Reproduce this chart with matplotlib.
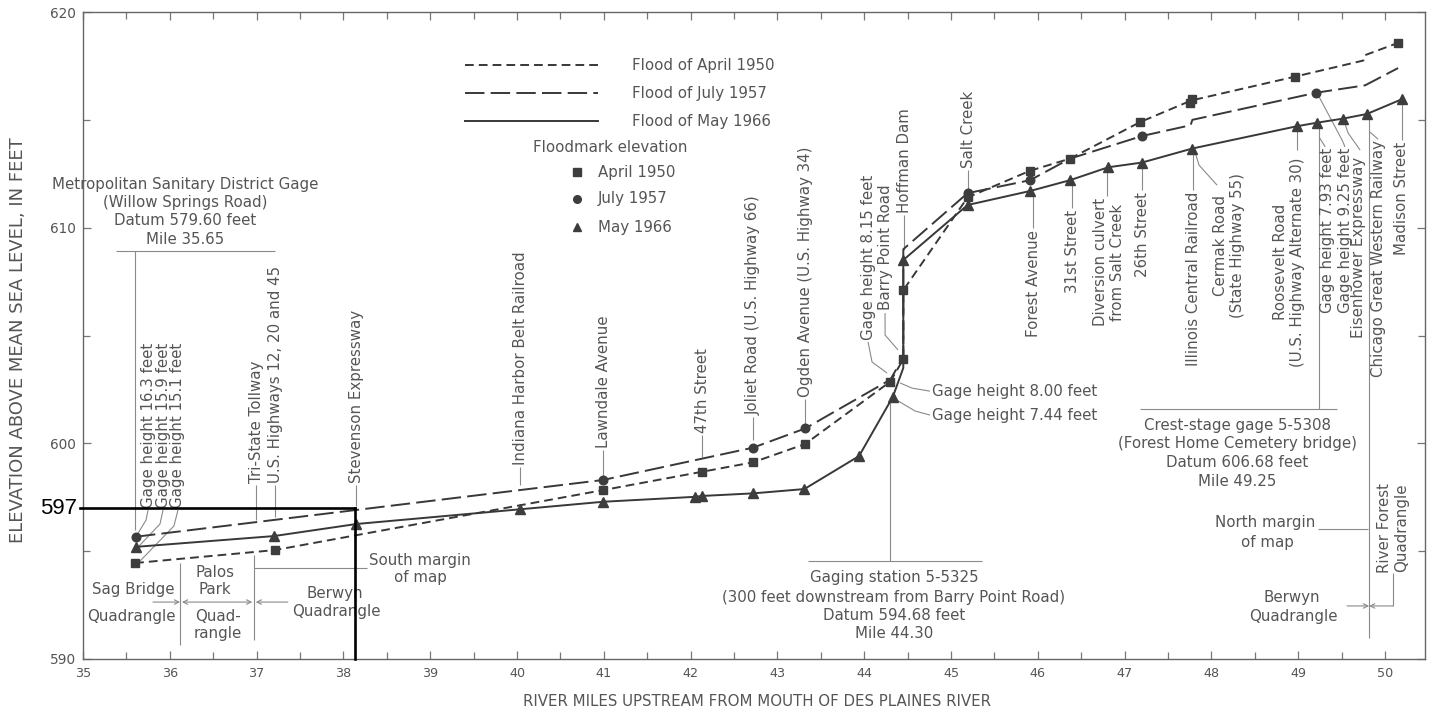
import matplotlib
matplotlib.use("Agg")
import matplotlib.pyplot as plt
from matplotlib.ticker import MultipleLocator

# ---------------------------------------------------------------
# Flood profiles along the Des Plaines River (river mile, feet)
# ---------------------------------------------------------------
profile_miles_1950 = [35.60, 37.21, 40.99, 42.13, 42.72, 43.32, 44.30, 44.45, 44.45,
                      45.19, 45.91, 46.37, 47.18, 47.77, 48.96, 49.75, 49.77, 50.15]
profile_elev_1950 = [594.45, 595.05, 597.83, 598.68, 599.12, 599.97, 602.86, 603.90, 607.10,
                     611.40, 612.64, 613.20, 614.90, 615.90, 617.00, 617.75, 618.00, 618.57]

profile_miles_1957 = [35.61, 40.99, 42.72, 43.32, 44.30, 44.45, 44.45, 45.19, 45.91,
                      46.37, 47.20, 47.76, 47.78, 49.21, 49.77, 50.15]
profile_elev_1957 = [595.67, 598.30, 599.80, 600.69, 602.95, 604.00, 609.00, 611.60, 612.20,
                     613.20, 614.25, 614.75, 615.00, 616.26, 616.60, 617.40]

profile_miles_1966 = [35.61, 37.20, 38.15, 40.03, 40.99, 42.05, 42.13, 42.72, 43.31, 43.94,
                      44.33, 44.45, 44.45, 45.19, 45.91, 46.37, 46.81, 47.20, 47.78, 48.98,
                      49.22, 49.52, 49.79, 50.19]
profile_elev_1966 = [595.20, 595.70, 596.26, 596.94, 597.29, 597.52, 597.56, 597.68, 597.88, 599.41,
                     602.16, 603.50, 608.50, 611.05, 611.70, 612.20, 612.80, 613.02, 613.67, 614.70,
                     614.87, 615.06, 615.27, 615.95]

# Floodmark elevations
marks_miles_1950 = [35.60, 37.21, 40.99, 42.13, 42.72, 43.32, 44.30, 44.45, 44.45, 45.19,
                    45.91, 46.37, 47.18, 47.75, 47.78, 48.96, 50.15]
marks_elev_1950 = [594.45, 595.05, 597.83, 598.68, 599.12, 599.97, 602.86, 603.90, 607.10, 611.40,
                   612.64, 613.20, 614.90, 615.76, 615.96, 617.00, 618.57]

marks_miles_1957 = [35.61, 40.99, 42.72, 43.32, 45.19, 45.91, 47.20, 49.21]
marks_elev_1957 = [595.67, 598.30, 599.80, 600.69, 611.60, 612.20, 614.25, 616.26]

marks_miles_1966 = [35.61, 37.20, 38.15, 40.03, 40.99, 42.05, 42.13, 42.72, 43.31, 43.94,
                    44.33, 44.45, 45.19, 45.91, 46.37, 46.81, 47.20, 47.78, 48.98, 49.22,
                    49.52, 49.79, 50.19]
marks_elev_1966 = [595.20, 595.70, 596.26, 596.94, 597.29, 597.52, 597.56, 597.68, 597.88, 599.41,
                   602.16, 608.50, 611.05, 611.70, 612.20, 612.80, 613.02, 613.67, 614.70, 614.87,
                   615.06, 615.27, 615.95]

# Highlighted reading
marker_mile = 38.13
marker_elev = 597

legend_lines = ["Flood of April 1950", "Flood of July 1957", "Flood of May 1966"]
legend_marks = ["April 1950", "July 1957", "May 1966"]

TXT = "#555555"
LINE = "#383838"
LEAD = "#8a8a8a"
MARK = "#3d3d3d"
FS = 10.8

plt.rcParams["font.family"] = ["DejaVu Sans"]

fig = plt.figure(figsize=(14.32, 7.14), dpi=100)
ax = fig.add_axes([83 / 1432, 1 - 659 / 714, 1342 / 1432, 647 / 714])
ax.set_xlim(35, 50.46)
ax.set_ylim(590, 620)

style_1950 = dict(color=LINE, lw=1.4, dashes=(4.5, 2.6))
style_1957 = dict(color=LINE, lw=1.4, dashes=(10, 3.2))
style_1966 = dict(color=LINE, lw=1.4)

ax.plot(profile_miles_1950, profile_elev_1950, **style_1950, zorder=3)
ax.plot(profile_miles_1957, profile_elev_1957, **style_1957, zorder=3)
ax.plot(profile_miles_1966, profile_elev_1966, **style_1966, zorder=3)

ax.plot(marks_miles_1950, marks_elev_1950, ls="none", marker="s", ms=6.2, color=MARK, zorder=4)
ax.plot(marks_miles_1957, marks_elev_1957, ls="none", marker="o", ms=6.2, color=MARK, zorder=4)
ax.plot(marks_miles_1966, marks_elev_1966, ls="none", marker="^", ms=6.8, color=MARK, zorder=4)

# ---------------- axes styling ----------------
for sp in ax.spines.values():
    sp.set_color("#666666")
    sp.set_linewidth(1.0)
ax.xaxis.set_major_locator(MultipleLocator(1))
ax.xaxis.set_minor_locator(MultipleLocator(0.5))
ax.yaxis.set_major_locator(MultipleLocator(10))
ax.yaxis.set_minor_locator(MultipleLocator(5))
ax.tick_params(which="both", direction="in", top=True, right=True, colors="#777777",
               labelcolor=TXT)
ax.tick_params(which="major", length=6, width=0.9, pad=6)
ax.tick_params(which="minor", length=5, width=0.9)
ax.tick_params(axis="x", labelsize=9.2)
ax.tick_params(axis="y", pad=5, labelsize=9.8)

fig.text(18 / 1432, 1 - 340 / 714, "ELEVATION ABOVE MEAN SEA LEVEL, IN FEET", rotation=90,
         ha="center", va="center", fontsize=13, color=TXT)
fig.text(757 / 1432, 1 - 701 / 714, "RIVER MILES UPSTREAM FROM MOUTH OF DES PLAINES RIVER",
         ha="center", va="center", fontsize=10.8, color=TXT)


def txt(x, y, s, ha="center", va="center", **kw):
    ax.text(x, y, s, ha=ha, va=va, fontsize=kw.pop("fontsize", FS), color=TXT, **kw)


def vtxt(x, y, s, va="bottom", **kw):
    ax.text(x, y, s, rotation=90, ha="center", va=va, fontsize=FS, color=TXT,
            multialignment="center", linespacing=1.1, **kw)


def lead(xs, ys, lw=0.8):
    ax.plot(xs, ys, color=LEAD, lw=lw, zorder=2, solid_capstyle="butt")


def arrow(x0, x1, y, both=False):
    ax.annotate("", xy=(x1, y), xytext=(x0, y),
                arrowprops=dict(arrowstyle="<->" if both else "->", color=LEAD, lw=0.8,
                                shrinkA=0, shrinkB=0, mutation_scale=8))


# ---------------- legend ----------------
for y, lab, st in zip([617.54, 616.24, 614.94], legend_lines, [style_1950, style_1957, style_1966]):
    ax.plot([39.40, 40.93], [y, y], **st)
    txt(41.32, y, lab, ha="left")
txt(41.07, 613.74, "Floodmark elevation")
for y, lab, mk in zip([612.58, 611.33, 610.03], legend_marks, ["s", "o", "^"]):
    ax.plot([40.69], [y], marker=mk, ms=5.5, color=MARK, ls="none")
    txt(40.93, y, lab, ha="left")

# ---------------- Metropolitan Sanitary District gage ----------------
for y, s in zip([612.02, 611.19, 610.35, 609.47],
                ["Metropolitan Sanitary District Gage", "(Willow Springs Road)",
                 "Datum 579.60 feet", "Mile 35.65"]):
    txt(36.175, y, s)
lead([35.38, 37.21], [608.92, 608.92])
lead([35.60, 35.60], [608.92, 595.98])

vtxt(35.749, 597.0, "Gage height 16.3 feet")
vtxt(35.922, 597.0, "Gage height 15.9 feet")
vtxt(36.094, 597.0, "Gage height 15.1 feet")
lead([35.749, 35.726, 35.622], [596.91, 596.44, 595.75])
lead([35.922, 35.887, 35.634], [596.91, 596.26, 595.19])
lead([36.094, 36.048, 35.657], [596.91, 596.17, 594.54])

# ---------------- labels above the profiles ----------------
above = [
    (36.993, 598.16, 596.44, "Tri-State Tollway"),
    (37.212, 598.16, 596.58, "U.S. Highways 12, 20 and 45"),
    (38.145, 598.16, 597.10, "Stevenson Expressway"),
    (40.035, 598.99, 598.07, "Indiana Harbor Belt Railroad"),
    (40.991, 599.78, 598.39, "Lawndale Avenue"),
    (42.131, 600.48, 599.36, "47th Street"),
    (42.719, 601.31, 600.15, "Joliet Road (U.S. Highway 66)"),
    (43.318, 602.15, 600.90, "Ogden Avenue (U.S. Highway 34)"),
    (44.459, 610.68, 608.96, "Hoffman Dam"),
    (45.196, 612.76, 611.74, "Salt Creek"),
]
for x, ytop, ybot, s in above:
    vtxt(x, ytop, s)
    lead([x, x], [ytop - 0.08, ybot])

vtxt(44.044, 604.79, "Gage height 8.15 feet")
lead([44.044, 44.09, 44.263], [604.70, 603.77, 603.26])
vtxt(44.24, 606.18, "Barry Point Road")
lead([44.24, 44.24, 44.389], [606.04, 605.02, 604.33])

# ---------------- labels below the profiles ----------------
below = [
    (45.945, 609.89, 611.65, "Forest Avenue"),
    (46.394, 610.82, 612.11, "31st Street"),
    (46.82, 611.37, 612.76, "Diversion culvert\nfrom Salt Creek"),
    (47.20, 611.65, 613.04, "26th Street"),
    (47.788, 611.65, 613.60, "Illinois Central Railroad"),
    (50.195, 613.97, 615.92, "Madison Street"),
]
for x, ytop, ymark, s in below:
    vtxt(x, ytop, s, va="top")
    lx = 46.797 if "\n" in s else x
    lead([lx, lx], [ymark, ytop + 0.08])

vtxt(48.203, 609.19, "Cermak Road\n(State Highway 55)", va="center")
lead([47.811, 47.857, 48.065], [613.50, 612.90, 611.97])
vtxt(48.894, 608.40, "Roosevelt Road\n(U.S. Highway Alternate 30)", va="center")
lead([48.986, 48.986], [614.62, 613.60])

vtxt(49.332, 613.69, "Gage height 7.93 feet", va="top")
vtxt(49.539, 613.69, "Gage height 9.25 feet", va="top")
vtxt(49.689, 613.27, "Eisenhower Expressway", va="top")
vtxt(49.919, 614.06, "Chicago Great Western Railway", va="top")
lead([49.24, 49.24], [614.85, 601.59])
lead([49.24, 49.31], [614.20, 613.75])
lead([49.217, 49.505, 49.539], [616.24, 614.06, 613.74])
lead([49.516, 49.574, 49.712], [615.08, 614.39, 613.60])
lead([49.816, 49.816], [615.22, 590.97])
lead([49.827, 49.919], [614.43, 614.10])

# ---------------- gage height labels at Barry Point Road ----------------
txt(44.781, 602.42, "Gage height 8.00 feet", ha="left")
txt(44.781, 601.31, "Gage height 7.44 feet", ha="left")
lead([44.412, 44.551, 44.758], [602.80, 602.56, 602.42])
lead([44.355, 44.585, 44.758], [602.05, 601.50, 601.31])

# ---------------- gaging station 5-5325 ----------------
lead([44.30, 44.30], [602.10, 594.54])
lead([43.353, 45.357], [594.54, 594.54])
for y, s in zip([593.80, 592.87, 592.01, 591.17],
                ["Gaging station 5-5325", "(300 feet downstream from Barry Point Road)",
                 "Datum 594.68 feet", "Mile 44.30"]):
    txt(44.343, y, s)

# ---------------- crest-stage gage 5-5308 ----------------
lead([47.177, 49.447], [601.59, 601.59])
for y, s in zip([600.85, 599.97, 599.09, 598.21],
                ["Crest-stage gage 5-5308", "(Forest Home Cemetery bridge)",
                 "Datum 606.68 feet", "Mile 49.25"]):
    txt(48.295, y, s)

# ---------------- quadrangle boundaries ----------------
txt(35.576, 593.20, "Sag Bridge")
txt(35.553, 591.95, "Quadrangle")
lead([36.118, 36.118], [594.45, 590.65])
lead([36.97, 36.97], [594.82, 590.88])
arrow(35.806, 36.118, 592.64)
arrow(36.14, 36.95, 592.64, both=True)
arrow(37.36, 36.99, 592.64)
txt(36.521, 594.03, "Palos")
txt(36.521, 593.20, "Park")
txt(36.555, 591.95, "Quad-")
txt(36.555, 591.16, "rangle")
lead([36.97, 38.272], [594.22, 594.22])
txt(38.882, 594.59, "South margin")
txt(38.882, 593.76, "of map")
txt(37.903, 593.06, "Berwyn")
txt(37.915, 592.18, "Quadrangle")

txt(48.618, 596.31, "North margin")
txt(48.641, 595.42, "of map")
lead([49.228, 49.804], [596.03, 596.03])
vtxt(50.092, 596.07, "River Forest\nQuadrangle", va="center")
lead([50.092, 50.092], [593.99, 592.46])
arrow(50.092, 49.816, 592.46)
arrow(49.562, 49.816, 592.46)
txt(48.928, 592.83, "Berwyn")
txt(48.94, 591.95, "Quadrangle")

# ---------------- highlighted reading ----------------
ax.plot([34.965, marker_mile], [marker_elev, marker_elev], color="black", lw=1.9,
        clip_on=False, zorder=6)
ax.plot([marker_mile, marker_mile], [marker_elev, 590], color="black", lw=1.9,
        clip_on=False, zorder=6)
ax.text(34.93, marker_elev, str(marker_elev), ha="right", va="center", fontsize=16,
        family="Liberation Sans", color="black")

fig.savefig("out.png", dpi=100, facecolor="white")
